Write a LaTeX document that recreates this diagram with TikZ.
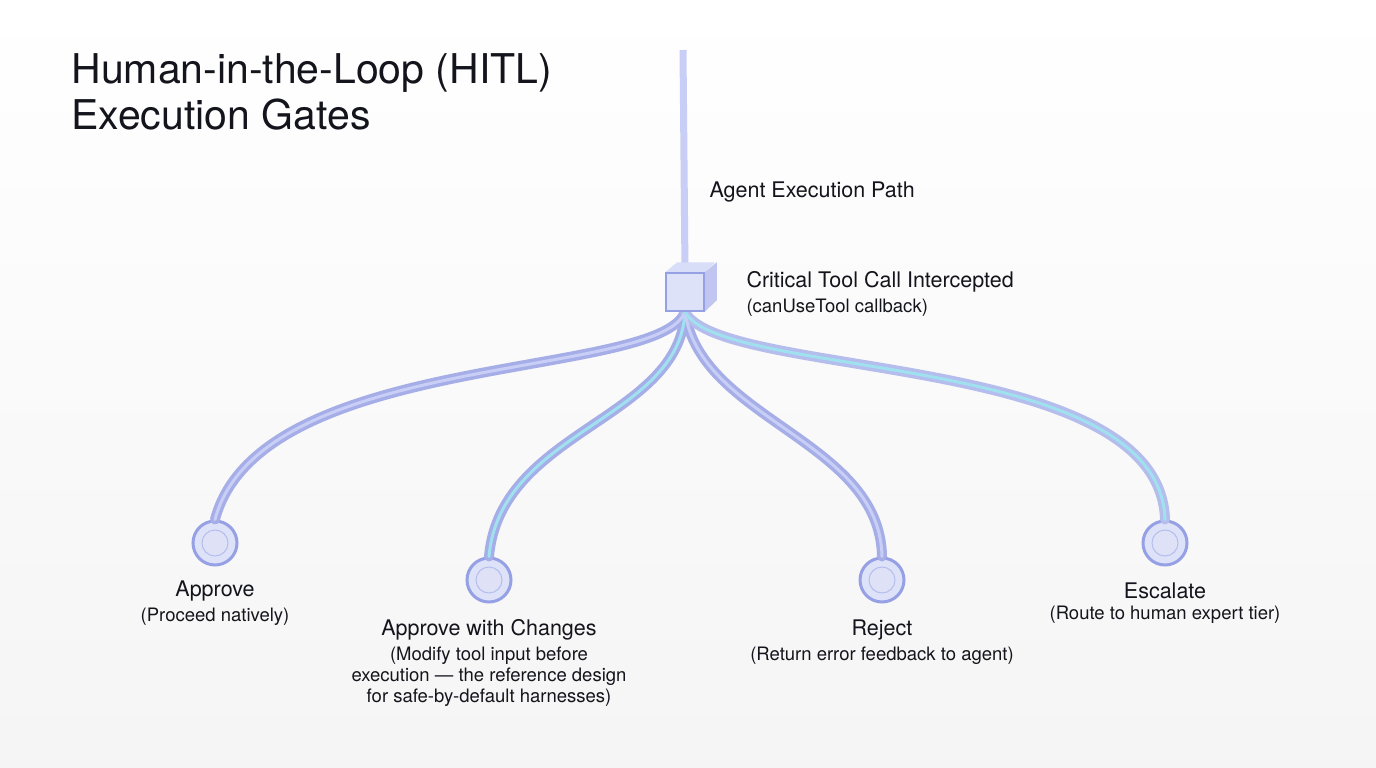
\documentclass[tikz,border=0pt]{standalone}
\usepackage{fontspec}
\setmainfont{TeX Gyre Heros}
\usetikzlibrary{positioning}
\definecolor{pipe}{RGB}{150,160,228}
\definecolor{pipelight}{RGB}{200,206,245}
\definecolor{glow}{RGB}{160,225,240}
\definecolor{txt}{RGB}{20,20,28}
\tikzset{
    pipe/.style={line width=10pt, draw=pipe!85, line cap=round},
    pipein/.style={line width=3pt, draw=pipelight, line cap=round},
    gate/.style={circle, draw=pipe, line width=3pt, fill=pipelight!60, minimum size=44pt, inner sep=0pt},
    gatein/.style={circle, draw=pipe!70, line width=1pt, fill=white!70!pipe, minimum size=26pt, inner sep=0pt},
    head/.style={font=\fontsize{21.5}{24}\selectfont, text=txt, align=center},
    sub/.style={font=\fontsize{18.5}{21}\selectfont, text=txt, align=center}
}
\begin{document}
\begin{tikzpicture}[x=1pt, y=-1pt]
\useasboundingbox (0,0) rectangle (1376,768);
\fill[top color=white, bottom color=black!4] (0,0) rectangle (1376,768);
% title
\node[anchor=north west, align=left, text=txt, font=\fontsize{41}{46}\selectfont] (title) at (68,50) {Human-in-the-Loop (HITL)\\Execution Gates};
% gates
\node[gate] (g1) at (215,543) {};
\node[gate] (g2) at (489,580) {};
\node[gate] (g3) at (882,580) {};
\node[gate] (g4) at (1165,543) {};
\coordinate (top) at (683,50);
\node[draw=pipe, fill=pipelight!50, line width=1.5pt, minimum size=38pt] (cube) at (685,292) {};
% pipes
\draw[line width=7pt, draw=pipelight] (top) -- (cube.north);
\draw[pipe] (cube.south) .. controls (660,380) and (260,350) .. (g1.north);
\draw[pipe] (cube.south) .. controls (680,420) and (500,430) .. (g2.north);
\draw[pipe] (cube.south) .. controls (700,420) and (880,440) .. (g3.north);
\draw[pipe, draw=pipe!70] (cube.south) .. controls (720,380) and (1160,350) .. (g4.north);
\draw[pipein] (cube.south) .. controls (660,380) and (260,350) .. (g1.north);
\draw[pipein, draw=glow] (cube.south) .. controls (680,420) and (500,430) .. (g2.north);
\draw[pipein] (cube.south) .. controls (700,420) and (880,440) .. (g3.north);
\draw[pipein, draw=glow] (cube.south) .. controls (720,380) and (1160,350) .. (g4.north);
% cube faces
\fill[pipelight!70] (cube.north west) -- ++(12,-10) -- ++(38,0) -- (cube.north east) -- cycle;
\fill[pipe!60] (cube.north east) -- ++(12,-10) -- ++(0,38) -- (cube.south east) -- cycle;
\node[draw=pipe, fill=white!40!pipelight, line width=1.5pt, minimum size=38pt] at (cube) {};
\foreach \g in {g1,g2,g3,g4}{
    \node[gatein] at (\g) {};
}
% labels
\node[head, anchor=west] (lpath) at (706,192) {Agent Execution Path};
\node[head, anchor=west] (lcube) at (743,282) {Critical Tool Call Intercepted};
\node[sub, anchor=north west] at (lcube.south west) {(canUseTool callback)};
\node[head] (l1) at (215,591) {Approve};
\node[sub, below=0pt of l1] {(Proceed natively)};
\node[head] (l2) at (489,630) {Approve with Changes};
\node[sub, below=0pt of l2] {(Modify tool input before\\execution --- the reference design\\for safe-by-default harnesses)};
\node[head] (l3) at (882,630) {Reject};
\node[sub, below=0pt of l3] {(Return error feedback to agent)};
\node[head] (l4) at (1165,591) {Escalate};
\node[sub, below=0pt of l4] {(Route to human expert tier)};
\end{tikzpicture}
\end{document}
